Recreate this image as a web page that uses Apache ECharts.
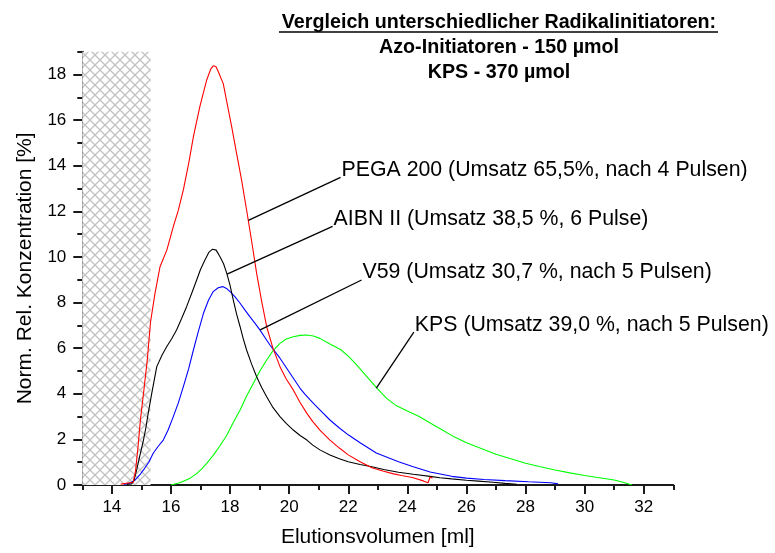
<!DOCTYPE html>
<html><head><meta charset="utf-8">
<script src="https://cdn.jsdelivr.net/npm/echarts@6/dist/echarts.min.js"></script>
<style>html,body{margin:0;padding:0;background:#fff}#c{width:775px;height:553px}</style>
</head><body><div id="c"></div>
<script>
// ---- data ----
const pegaX = [14.3,14.5,14.72,14.8,14.88,14.97,15.07,15.2,15.31,15.46,15.63,15.86,16.08,16.25,16.42,16.6,16.76,16.98,17.21,17.35,17.43,17.52,17.6,17.77,17.89,18.05,18.22,18.4,18.56,18.73,18.9,19.07,19.24,19.45,19.69,19.9,20.14,20.37,20.6,20.8,21.04,21.38,21.7,22.0,22.4,22.8,23.2,23.5,23.8,24.17,24.54,24.7,24.77,24.85];
const pegaY = [0.04,0.08,0.12,0.6,1.6,2.9,4.0,5.5,7.16,8.4,9.57,10.3,11.33,12.05,12.94,14.1,15.28,16.6,17.76,18.25,18.38,18.35,18.13,17.6,16.8,15.75,14.55,13.3,12.06,10.7,9.28,8.05,6.94,6.0,5.19,4.65,4.17,3.62,3.14,2.78,2.41,1.97,1.62,1.32,1.02,0.76,0.6,0.5,0.42,0.33,0.18,0.1,0.35,0.3];

const aibnX = [14.5,14.67,14.75,14.84,14.95,15.07,15.15,15.23,15.35,15.52,15.7,15.86,16.02,16.19,16.36,16.53,16.7,16.87,17.0,17.15,17.28,17.41,17.53,17.66,17.78,17.89,18.0,18.11,18.22,18.34,18.45,18.56,18.73,18.9,19.07,19.24,19.45,19.69,19.9,20.14,20.37,20.6,20.8,21.04,21.38,21.7,22.0,22.4,22.8,23.2,23.7,24.2,24.77,25.1,25.5,26.0,26.4,26.9,27.3,27.7];
const aibnY = [0.02,0.05,0.2,0.66,1.3,1.97,2.5,3.14,4.02,5.19,5.7,6.07,6.4,6.8,7.3,7.82,8.4,8.99,9.45,9.87,10.2,10.34,10.3,10.01,9.7,9.28,8.75,8.11,7.5,6.94,6.4,5.92,5.3,4.75,4.28,3.87,3.4,3.0,2.7,2.41,2.17,1.97,1.75,1.54,1.32,1.15,1.02,0.9,0.8,0.68,0.56,0.47,0.38,0.32,0.27,0.21,0.17,0.12,0.07,0.03];

const v59X = [14.4,14.6,14.79,14.95,15.07,15.25,15.4,15.57,15.74,15.9,16.08,16.25,16.42,16.6,16.76,16.93,17.1,17.27,17.43,17.6,17.75,17.88,18.0,18.17,18.34,18.5,18.67,18.84,19.01,19.18,19.35,19.52,19.69,19.86,20.03,20.2,20.37,20.54,20.71,20.88,21.04,21.38,21.7,22.0,22.4,22.95,23.7,24.2,24.77,25.5,26.0,26.6,27.3,28.1,28.86,29.1];
const v59Y = [0.02,0.08,0.22,0.45,0.66,1.0,1.39,1.7,1.97,2.4,3.0,3.6,4.31,5.1,5.92,6.75,7.53,8.1,8.48,8.65,8.7,8.62,8.48,8.25,7.97,7.68,7.38,7.1,6.8,6.47,6.14,5.85,5.56,5.23,4.9,4.57,4.24,3.97,3.73,3.5,3.29,2.85,2.5,2.2,1.85,1.4,1.02,0.8,0.57,0.38,0.3,0.24,0.19,0.14,0.1,0.05];

const kpsX = [16.0,16.3,16.65,16.87,17.05,17.21,17.43,17.66,17.89,18.1,18.34,18.56,18.79,19.0,19.24,19.45,19.69,19.9,20.14,20.37,20.6,20.82,21.04,21.38,21.74,22.0,22.3,22.6,23.0,23.3,23.6,24.0,24.4,24.8,25.2,25.6,26.0,26.5,27.0,27.5,28.0,28.5,29.0,29.5,30.0,30.5,31.0,31.3,31.6];
const kpsY = [0,0.1,0.3,0.5,0.72,0.95,1.3,1.72,2.18,2.72,3.29,3.9,4.46,4.98,5.48,5.88,6.21,6.4,6.5,6.56,6.58,6.53,6.43,6.18,5.94,5.65,5.25,4.8,4.2,3.8,3.5,3.25,3.0,2.7,2.4,2.1,1.85,1.6,1.35,1.15,0.95,0.8,0.66,0.53,0.42,0.32,0.22,0.12,0.0];

const xTickLabels = [14,16,18,20,22,24,26,28,30,32];
const xMinorTicks = [13,15,17,19,21,23,25,27,29,31,33];
const yTickLabels = [0,2,4,6,8,10,12,14,16,18];
const yMinorTicks = [1,3,5,7,9,11,13,15,17,19];
const hatchX = [13, 15.31];

const titleLines = ['Vergleich unterschiedlicher Radikalinitiatoren:', 'Azo-Initiatoren - 150 µmol', 'KPS - 370 µmol'];
const annotTexts = ['PEGA 200 (Umsatz 65,5%, nach 4 Pulsen)', 'AIBN II (Umsatz 38,5 %, 6 Pulse)', 'V59 (Umsatz 30,7 %, nach 5 Pulsen)', 'KPS (Umsatz 39,0 %, nach 5 Pulsen)'];
const leaderFrom = [[18.62,11.6],[17.9,9.25],[19.02,6.8],[22.95,4.25]];
const leaderTo = [[21.74,13.49],[21.47,11.34],[22.45,8.99],[24.22,6.7]];

const FONT = '"Liberation Sans", Arial, sans-serif';
const zip = (xs, ys) => xs.map((x, i) => [x, ys[i]]);

// hatch pattern
const pc = document.createElement('canvas');
pc.width = 10; pc.height = 10;
const g = pc.getContext('2d');
g.fillStyle = '#ffffff'; g.fillRect(0,0,10,10);
g.strokeStyle = '#c2c2c2'; g.lineWidth = 1.3;
g.beginPath();
g.moveTo(-1,-1); g.lineTo(11,11);
g.moveTo(11,-1); g.lineTo(-1,11);
g.stroke();

const chart = echarts.init(document.getElementById('c'), null, {renderer: 'canvas'});
const axisLineStyle = {color: '#1a1a1a', width: 2};
const lineSeries = (name, xs, ys, color, extra) => Object.assign({
  name, type: 'line', data: zip(xs, ys), showSymbol: false, symbol: 'none',
  lineStyle: {color, width: 1.1}, itemStyle: {color}, z: 3, animation: false
}, extra || {});

chart.setOption({
  animation: false,
  grid: {left: 82.3, right: 101.7, top: 51.7, bottom: 68},
  xAxis: [{
    type: 'value', min: 13, max: 33, position: 'bottom',
    axisLine: {show: true, onZero: false, lineStyle: axisLineStyle},
    axisTick: {show: true, length: 9, customValues: xTickLabels, lineStyle: {color: '#1a1a1a', width: 2}},
    axisLabel: {customValues: xTickLabels, margin: 14, fontSize: 17, color: '#000', fontFamily: FONT},
    splitLine: {show: false},
    name: 'Elutionsvolumen [ml]', nameLocation: 'middle', nameGap: 42,
    nameTextStyle: {fontSize: 21, color: '#000', fontFamily: FONT}
  }, {
    type: 'value', min: 13, max: 33, position: 'bottom',
    axisLine: {show: false, onZero: false},
    axisTick: {show: true, length: 5, customValues: xMinorTicks, lineStyle: {color: '#1a1a1a', width: 2}},
    axisLabel: {show: false}, splitLine: {show: false}
  }],
  yAxis: [{
    type: 'value', min: 0, max: 19, position: 'left',
    axisLine: {show: true, onZero: false, lineStyle: axisLineStyle},
    axisTick: {show: true, length: 9, customValues: yTickLabels, lineStyle: {color: '#1a1a1a', width: 2}},
    axisLabel: {customValues: yTickLabels, margin: 16, fontSize: 17, color: '#000', fontFamily: FONT},
    splitLine: {show: false},
    name: 'Norm. Rel. Konzentration [%]', nameLocation: 'middle', nameGap: 47,
    nameTextStyle: {fontSize: 21, color: '#000', fontFamily: FONT}
  }, {
    type: 'value', min: 0, max: 19, position: 'left',
    axisLine: {show: false, onZero: false},
    axisTick: {show: true, length: 5, customValues: yMinorTicks, lineStyle: {color: '#1a1a1a', width: 2}},
    axisLabel: {show: false}, splitLine: {show: false}
  }],
  series: [
    lineSeries('KPS', kpsX, kpsY, '#00ff00'),
    lineSeries('V59', v59X, v59Y, '#0000ff'),
    lineSeries('AIBN II', aibnX, aibnY, '#000000'),
    lineSeries('PEGA 200', pegaX, pegaY, '#ff0000', {
      markArea: {
        silent: true, z: 1,
        itemStyle: {color: {image: pc, repeat: 'repeat'}, borderWidth: 0},
        data: [[{coord: [hatchX[0], 0]}, {coord: [hatchX[1], 19]}]]
      },
      markLine: {
        silent: true, symbol: ['none', 'none'], animation: false,
        lineStyle: {color: '#000', width: 1.3, type: 'solid'},
        label: {show: false},
        data: leaderFrom.map((p, i) => [{coord: p}, {coord: leaderTo[i]}])
      }
    })
  ]
});

// texts placed at leader ends
const graphics = [];
annotTexts.forEach((t, i) => {
  const p = chart.convertToPixel({xAxisIndex: 0, yAxisIndex: 0}, leaderTo[i]);
  graphics.push({type: 'text', x: p[0] + 1, y: p[1] - 7.5, silent: true,
    style: {text: t, font: '21.3px ' + FONT, fill: '#000', align: 'left', verticalAlign: 'middle'}});
});
const titleY = [22.5, 48, 73];
titleLines.forEach((t, i) => {
  graphics.push({type: 'text', x: 499, y: titleY[i], silent: true,
    style: {text: t, font: 'bold 19.7px ' + FONT, fill: '#000', align: 'center', verticalAlign: 'middle'}});
});
graphics.push({type: 'line', silent: true, shape: {x1: 279, y1: 32, x2: 718, y2: 32}, style: {stroke: '#000', lineWidth: 1.6}});
chart.setOption({graphic: graphics});
</script>
</body></html>
